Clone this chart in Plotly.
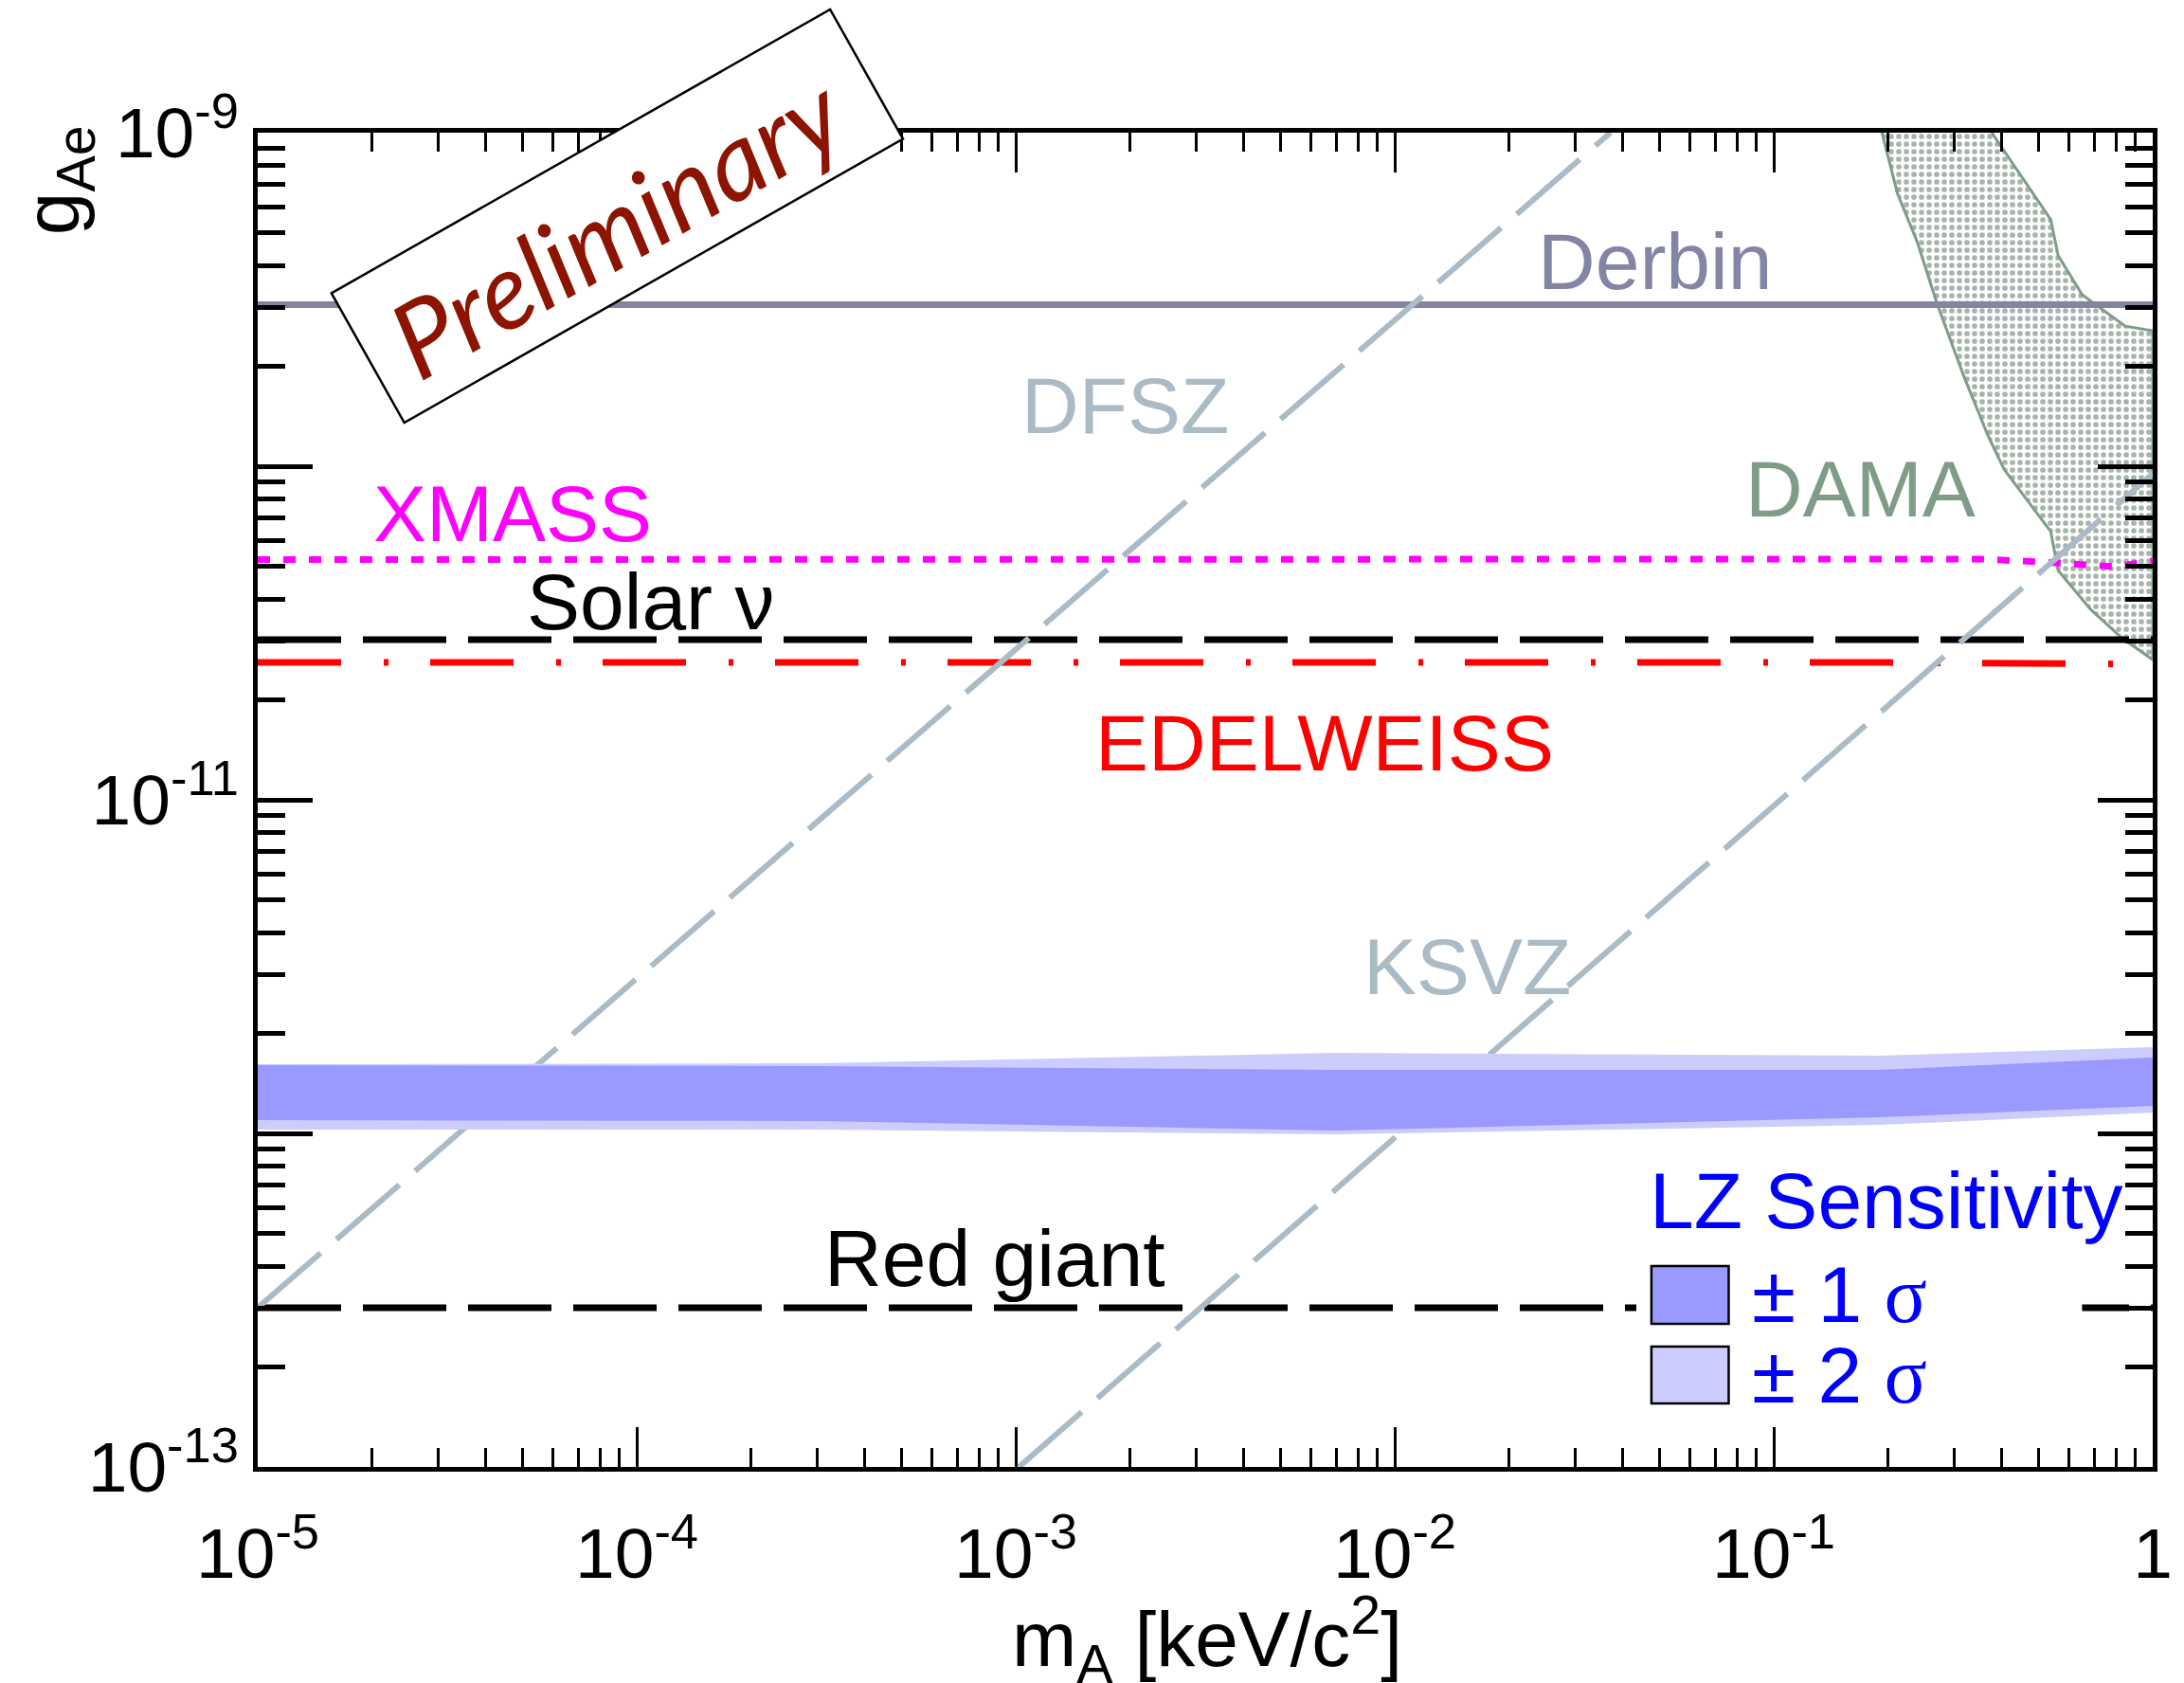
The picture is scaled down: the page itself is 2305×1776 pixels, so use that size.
import math
import plotly.graph_objects as go

# ---------------- data ----------------
mass_range = [1e-5, 1.0]          # keV/c^2
g_range = [1e-13, 1e-9]

derbin_m = [1e-5, 1.0]
derbin_g = [3.05e-10, 3.05e-10]

xmass_m = [1e-5, 0.1, 0.35, 0.5, 0.65, 0.8, 1.0]
xmass_g = [5.25e-11, 5.25e-11, 5.27e-11, 5.17e-11, 5.07e-11, 5.0e-11, 5.2e-11]

solar_m = [1e-5, 1.0]
solar_g = [3.02e-11, 3.02e-11]

edel_m = [1e-5, 0.2, 1.0]
edel_g = [2.58e-11, 2.58e-11, 2.55e-11]

redgiant_m = [1e-5, 1.0]
redgiant_g = [3.0e-13, 3.0e-13]

dfsz_m = [1e-5, 0.0371]
dfsz_g = [3.0e-13, 1.0e-9]

ksvz_m = [1.02e-3, 1.0]
ksvz_g = [1.0e-13, 9.5e-11]

dama_left_m = [0.193, 0.212, 0.239, 0.270, 0.318, 0.367, 0.405, 0.538, 0.563, 0.686, 0.828, 1.0]
dama_left_g = [1.0e-9, 6.58e-10, 4.71e-10, 3.06e-10, 1.85e-10, 1.24e-10, 9.8e-11,
               6.37e-11, 4.87e-11, 3.72e-11, 3.06e-11, 2.63e-11]
dama_right_m = [0.376, 0.538, 0.563, 0.651, 0.846, 1.0]
dama_right_g = [1.0e-9, 5.49e-10, 4.28e-10, 3.27e-10, 2.63e-10, 2.55e-10]

lz_m = [1e-5, 3e-4, 7e-3, 0.19, 1.0]
lz_2sig_hi = [1.612e-12, 1.622e-12, 1.743e-12, 1.71e-12, 1.813e-12]
lz_1sig_hi = [1.601e-12, 1.591e-12, 1.550e-12, 1.550e-12, 1.687e-12]
lz_1sig_lo = [1.096e-12, 1.089e-12, 1.020e-12, 1.117e-12, 1.209e-12]
lz_2sig_lo = [1.026e-12, 1.026e-12, 0.993e-12, 1.060e-12, 1.155e-12]

x_major = [1e-5, 1e-4, 1e-3, 1e-2, 1e-1, 1.0]
x_labels = ["10<sup>-5</sup>", "10<sup>-4</sup>", "10<sup>-3</sup>",
            "10<sup>-2</sup>", "10<sup>-1</sup>", "1"]
y_major = [1e-13, 1e-12, 1e-11, 1e-10, 1e-9]
y_labels = ["10<sup>-13</sup>", "", "10<sup>-11</sup>", "", "10<sup>-9</sup>"]

# ---------------- styles ----------------
FONT = "Liberation Sans, Arial, Helvetica, sans-serif"
C_DERBIN = "#8484a4"
C_AXION = "#abbbc6"
C_DAMA = "#7f9c88"
C_MAG = "#ff00ff"
C_RED = "#ff0000"
C_1SIG = "#9999ff"
C_2SIG = "#ccccff"

W, H = 2305, 1776
L, R, T, B = 272, 22, 140, 228
PW, PH = W - L - R, H - T - B


def P(X, Y):
    """pixel -> paper coordinates"""
    return (X - L) / PW, (H - B - Y) / PH


def minor_vals(decades):
    out = []
    for d in decades:
        for k in range(2, 10):
            out.append(k * 10.0 ** d)
    return out


fig = go.Figure()

# DAMA region
fig.add_trace(go.Scatter(
    x=dama_left_m + dama_right_m[::-1],
    y=dama_left_g + dama_right_g[::-1],
    mode="lines", fill="toself",
    line=dict(color=C_DAMA, width=3),
    fillcolor="white",
    fillpattern=dict(shape=".", size=8, solidity=0.4, fgcolor="#4d6b58", bgcolor="white"),
    showlegend=False, hoverinfo="skip"))

# Horizontal limits
fig.add_trace(go.Scatter(x=derbin_m, y=derbin_g, mode="lines",
                         line=dict(color=C_DERBIN, width=7), showlegend=False))
fig.add_trace(go.Scatter(x=solar_m, y=solar_g, mode="lines",
                         line=dict(color="black", width=7, dash="88px,23px"), showlegend=False))
fig.add_trace(go.Scatter(x=edel_m, y=edel_g, mode="lines",
                         line=dict(color=C_RED, width=7, dash="88px,45px,5px,44px"),
                         showlegend=False))
fig.add_trace(go.Scatter(x=redgiant_m, y=redgiant_g, mode="lines",
                         line=dict(color="black", width=7, dash="88px,23px"), showlegend=False))
fig.add_trace(go.Scatter(x=xmass_m, y=xmass_g, mode="lines",
                         line=dict(color=C_MAG, width=7, dash="13px,14px"), showlegend=False))

# Axion model lines
fig.add_trace(go.Scatter(x=dfsz_m, y=dfsz_g, mode="lines",
                         line=dict(color=C_AXION, width=6, dash="88px,22px"), showlegend=False))
fig.add_trace(go.Scatter(x=ksvz_m, y=ksvz_g, mode="lines",
                         line=dict(color=C_AXION, width=6, dash="88px,22px"), showlegend=False))

# LZ sensitivity bands
fig.add_trace(go.Scatter(x=lz_m + lz_m[::-1], y=lz_2sig_hi + lz_2sig_lo[::-1],
                         mode="lines", fill="toself", fillcolor=C_2SIG,
                         line=dict(width=0, color=C_2SIG), showlegend=False))
fig.add_trace(go.Scatter(x=lz_m + lz_m[::-1], y=lz_1sig_hi + lz_1sig_lo[::-1],
                         mode="lines", fill="toself", fillcolor=C_1SIG,
                         line=dict(width=0, color=C_1SIG), showlegend=False))

# ---------------- axes ----------------
fig.update_xaxes(
    type="log", range=[-5, 0], showgrid=False, zeroline=False,
    showline=True, linecolor="black", linewidth=5, mirror="allticks",
    ticks="inside", ticklen=42, tickwidth=3, tickcolor="black",
    tickmode="array", tickvals=x_major, ticktext=x_labels,
    tickfont=dict(family=FONT, size=75, color="black"),
    ticklabelstandoff=22,
    minor=dict(ticks="inside", ticklen=20, tickwidth=3, tickcolor="black",
               tickmode="array", tickvals=minor_vals(range(-5, 0)), showgrid=False),
)
fig.update_yaxes(
    type="log", range=[-13, -9], showgrid=False, zeroline=False,
    showline=True, linecolor="black", linewidth=5, mirror="allticks",
    ticks="inside", ticklen=58, tickwidth=4.5, tickcolor="black",
    tickmode="array", tickvals=y_major, ticktext=y_labels,
    tickfont=dict(family=FONT, size=75, color="black"),
    ticklabelstandoff=0,
    minor=dict(ticks="inside", ticklen=29, tickwidth=4.5, tickcolor="black",
               tickmode="array", tickvals=minor_vals(range(-13, -9)), showgrid=False),
)

# ---------------- shapes (decorations) ----------------
shapes = []
# Preliminary stamp box
cx, cy = 653.5, 228.0
ang = math.radians(29.5)
ux, uy = math.cos(ang), -math.sin(ang)
vx, vy = math.sin(ang), math.cos(ang)
hl, hs = 304.0, 78.5
corners = [(cx - hl * ux - hs * vx, cy - hl * uy - hs * vy),
           (cx + hl * ux - hs * vx, cy + hl * uy - hs * vy),
           (cx + hl * ux + hs * vx, cy + hl * uy + hs * vy),
           (cx - hl * ux + hs * vx, cy - hl * uy + hs * vy)]
pc = [P(X, Y) for X, Y in corners]
path = "M {} {} L {} {} L {} {} L {} {} Z".format(*[v for xy in pc for v in xy])
shapes.append(dict(type="path", path=path, xref="paper", yref="paper",
                   fillcolor="white", line=dict(color="black", width=2.5), layer="above"))
# legend background
x0, y0 = P(1735, 1215)
x1, y1 = P(2208, 1495)
shapes.append(dict(type="rect", xref="paper", yref="paper", x0=x0, y0=y0, x1=x1, y1=y1,
                   fillcolor="white", line=dict(width=0), layer="above"))
# legend boxes
for (top, bot, col) in [(1336, 1397, C_1SIG), (1421, 1481, C_2SIG)]:
    a0, b0 = P(1751, bot)
    a1, b1 = P(1833, top)
    shapes.append(dict(type="rect", xref="paper", yref="paper", x0=a0, y0=b0, x1=a1, y1=b1,
                       fillcolor=col, line=dict(color="black", width=2.5), layer="above"))
fig.update_layout(shapes=shapes)

# ---------------- annotations ----------------
ann = []


def text(X, Y, s, color, size=84, xanchor="center", angle=0, family=FONT):
    px, py = P(X, Y)
    ann.append(dict(x=px, y=py, xref="paper", yref="paper", text=s, showarrow=False,
                    xanchor=xanchor, yanchor="middle", textangle=angle,
                    font=dict(family=family, size=size, color=color)))


SIG = "<span style='font-family:Liberation Serif, Times New Roman, serif'>σ</span>"
text(1755, 276, "Derbin", C_DERBIN)
text(1193, 428, "DFSZ", C_AXION)
text(1973, 516, "DAMA", C_DAMA)
text(542, 542, "XMASS", C_MAG)
text(689, 635, "Solar ν", "black")
text(1404, 784, "EDELWEISS", C_RED)
text(1556, 1020, "KSVZ", C_AXION)
text(1054, 1328, "Red giant", "black")
text(1747, 1267, "LZ Sensitivity", "#0000ff", xanchor="left")
text(1856, 1366, "± 1 " + SIG, "#0000ff", xanchor="left")
text(1856, 1451, "± 2 " + SIG, "#0000ff", xanchor="left")
text(652, 236, "<i>Preliminary</i>", "#8c1400", size=112, angle=-29.5,
     family="Lato, Open Sans, sans-serif")
# axis titles
text(59, 190, "g<sub>Ae</sub>", "black", size=82, angle=-90)
text(1280, 1730, "m<sub>A</sub> [keV/c<sup>2</sup>]", "black", size=82)

fig.update_layout(
    annotations=ann,
    width=W, height=H,
    margin=dict(l=L, r=R, t=T, b=B, pad=0),
    paper_bgcolor="white", plot_bgcolor="white",
    showlegend=False,
)

fig.write_html("out.html")
